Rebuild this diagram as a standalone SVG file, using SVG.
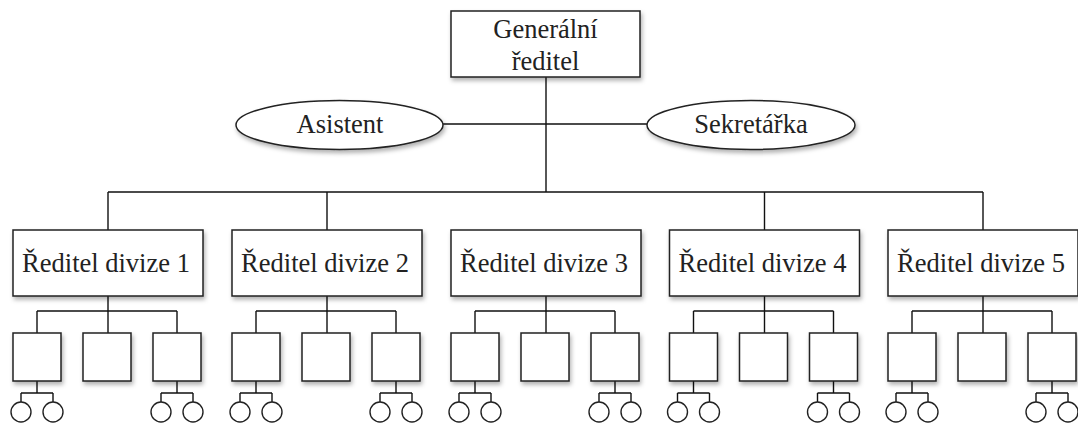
<svg xmlns="http://www.w3.org/2000/svg" width="1078" height="426" viewBox="0 0 1078 426">
<defs>
<filter id="sh" x="-20%" y="-20%" width="140%" height="160%">
<feDropShadow dx="1.5" dy="3" stdDeviation="2" flood-color="#000" flood-opacity="0.3"/>
</filter>
<style>
.n{fill:#fff;stroke:#222;stroke-width:1.5;filter:url(#sh)}
.c{fill:#fff;stroke:#222;stroke-width:1.4}
.l{fill:none;stroke:#111;stroke-width:1.4}
.t{font-size:26.5px;fill:#222;text-anchor:middle}
</style>
</defs>
<rect width="1078" height="426" fill="#fff"/>
<g id="connectors">
<path class="l" d="M546,77V192M443,124H647M108,192H983M108,192V230M327,192V230M764.5,192V230M983,192V230"/>
<path class="l" d="M108,296V311M37,311H177M37,311V333M177,311V333M108,311V333M37,381V393M21,393H53M21,393V402M53,393V402M177,381V393M161,393H193M161,393V402M193,393V402"/>
<path class="l" d="M327,296V311M256,311H396M256,311V333M396,311V333M327,311V333M256,381V393M240,393H272M240,393V402M272,393V402M396,381V393M380,393H412M380,393V402M412,393V402"/>
<path class="l" d="M546,296V311M475,311H615M475,311V333M615,311V333M546,311V333M475,381V393M459,393H491M459,393V402M491,393V402M615,381V393M599,393H631M599,393V402M631,393V402"/>
<path class="l" d="M764.5,296V311M693.5,311H833.5M693.5,311V333M833.5,311V333M764.5,311V333M693.5,381V393M677.5,393H709.5M677.5,393V402M709.5,393V402M833.5,381V393M817.5,393H849.5M817.5,393V402M849.5,393V402"/>
<path class="l" d="M983,296V311M912,311H1052M912,311V333M1052,311V333M983,311V333M912,381V393M896,393H928M896,393V402M928,393V402M1052,381V393M1036,393H1068M1036,393V402M1068,393V402"/>
</g>
<g font-family="Liberation Serif, Times New Roman, serif">
<g id="gr"><rect class="n" x="451" y="11" width="189" height="66"/><text class="t" x="545.5" y="37.5">Generální</text><text class="t" x="545.5" y="69.5">ředitel</text></g>
<g id="asistent"><ellipse class="n" cx="339.5" cy="125" rx="103.5" ry="24.5"/><text class="t" x="340" y="133">Asistent</text></g>
<g id="sekretarka"><ellipse class="n" cx="751" cy="125" rx="104" ry="24.5"/><text class="t" x="751" y="133">Sekretářka</text></g>
<g id="div1"><rect class="n" x="13" y="230" width="190" height="66"/><text class="t" x="106" y="272">Ředitel divize 1</text></g>
<g id="div2"><rect class="n" x="232" y="230" width="190" height="66"/><text class="t" x="325" y="272">Ředitel divize 2</text></g>
<g id="div3"><rect class="n" x="451" y="230" width="190" height="66"/><text class="t" x="544" y="272">Ředitel divize 3</text></g>
<g id="div4"><rect class="n" x="669.5" y="230" width="190" height="66"/><text class="t" x="762.5" y="272">Ředitel divize 4</text></g>
<g id="div5"><rect class="n" x="888" y="230" width="190" height="66"/><text class="t" x="981" y="272">Ředitel divize 5</text></g>
</g>
<g id="sub-div1"><rect class="n" x="13" y="333" width="48" height="48"/><rect class="n" x="83" y="333" width="48" height="48"/><rect class="n" x="153" y="333" width="48" height="48"/><circle class="c" cx="21" cy="412" r="10"/><circle class="c" cx="53" cy="412" r="10"/><circle class="c" cx="161" cy="412" r="10"/><circle class="c" cx="193" cy="412" r="10"/></g>
<g id="sub-div2"><rect class="n" x="232" y="333" width="48" height="48"/><rect class="n" x="302" y="333" width="48" height="48"/><rect class="n" x="372" y="333" width="48" height="48"/><circle class="c" cx="240" cy="412" r="10"/><circle class="c" cx="272" cy="412" r="10"/><circle class="c" cx="380" cy="412" r="10"/><circle class="c" cx="412" cy="412" r="10"/></g>
<g id="sub-div3"><rect class="n" x="451" y="333" width="48" height="48"/><rect class="n" x="521" y="333" width="48" height="48"/><rect class="n" x="591" y="333" width="48" height="48"/><circle class="c" cx="459" cy="412" r="10"/><circle class="c" cx="491" cy="412" r="10"/><circle class="c" cx="599" cy="412" r="10"/><circle class="c" cx="631" cy="412" r="10"/></g>
<g id="sub-div4"><rect class="n" x="669.5" y="333" width="48" height="48"/><rect class="n" x="739.5" y="333" width="48" height="48"/><rect class="n" x="809.5" y="333" width="48" height="48"/><circle class="c" cx="677.5" cy="412" r="10"/><circle class="c" cx="709.5" cy="412" r="10"/><circle class="c" cx="817.5" cy="412" r="10"/><circle class="c" cx="849.5" cy="412" r="10"/></g>
<g id="sub-div5"><rect class="n" x="888" y="333" width="48" height="48"/><rect class="n" x="958" y="333" width="48" height="48"/><rect class="n" x="1028" y="333" width="48" height="48"/><circle class="c" cx="896" cy="412" r="10"/><circle class="c" cx="928" cy="412" r="10"/><circle class="c" cx="1036" cy="412" r="10"/><circle class="c" cx="1068" cy="412" r="10"/></g>
</svg>
